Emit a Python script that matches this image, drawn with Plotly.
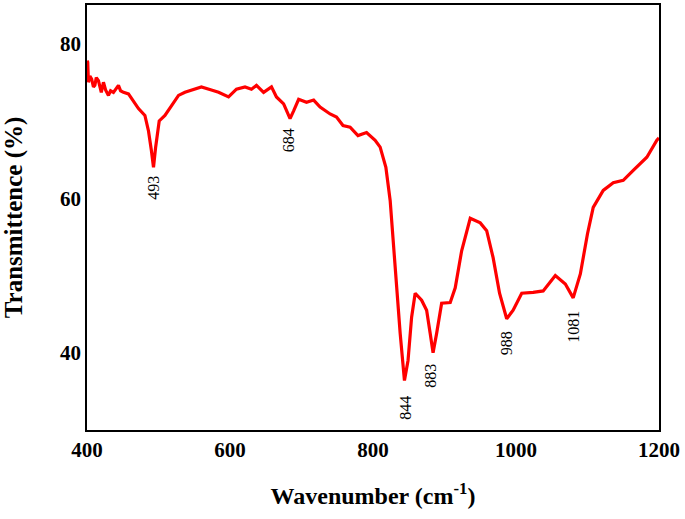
import plotly.graph_objects as go

wavenumber = [400, 401, 402, 404, 406.5, 409, 411, 413, 416, 418, 420, 423, 426, 430, 433, 437, 441, 444, 447,
              451, 458, 465, 472, 481, 486, 490, 493,
              496, 501, 509, 518, 528, 537, 551, 560, 574, 584, 598, 609, 621, 630, 637, 647, 658, 665, 675,
              684, 689, 696, 707, 717, 726, 740, 749, 758, 768, 779, 791, 803, 810, 814, 818, 824, 828, 833,
              838, 844, 849, 854, 859, 868, 875, 880, 884, 889, 896, 908, 915, 924, 936, 950, 959, 968, 977,
              987, 996, 1008, 1024, 1038, 1055, 1069, 1080, 1090, 1100, 1108, 1122, 1136, 1150, 1164, 1183,
              1197, 1200]
transmittance = [77.8, 77.6, 75.0, 75.8, 75.4, 74.4, 74.6, 75.6, 75.2, 74.2, 73.7, 75.0, 74.0, 73.3, 73.9, 73.7,
                 74.3, 74.6, 73.9,
                 73.7, 73.5, 72.6, 71.6, 70.7,
                 68.7, 66.2, 64.0, 66.6, 70.0, 70.7, 72.0, 73.3, 73.7, 74.1, 74.4, 74.0, 73.7, 73.1, 74.1, 74.4,
                 74.1, 74.6, 73.7, 74.4, 73.1, 72.2, 70.3, 71.3, 72.8, 72.4, 72.7, 71.8, 70.9, 70.5, 69.4, 69.2,
                 68.1, 68.5, 67.5, 66.6, 65.3, 64.0, 59.7, 54.5, 48.4, 42.5, 36.4, 39.0, 44.6, 47.7, 46.8, 45.5,
                 42.5, 40.0, 42.5, 46.4, 46.5, 48.4, 53.2, 57.4, 56.8, 55.8, 52.3, 47.7, 44.4, 45.5, 47.7, 47.8,
                 48.0, 50.0, 48.9, 47.1, 50.2, 55.4, 58.8, 61.0, 62.0, 62.3, 63.6, 65.3, 67.5, 67.8]

peak_labels = ["493", "684", "844", "883", "988", "1081"]
peak_label_x = [493, 681, 845, 881, 987, 1080]
peak_label_y = [61.3, 67.5, 32.9, 37.0, 41.2, 43.4]

x_ticks = [400, 600, 800, 1000, 1200]
y_ticks = [40, 60, 80]

serif = "Liberation Serif, Times New Roman, serif"

fig = go.Figure()
fig.add_trace(go.Scatter(x=wavenumber, y=transmittance, mode="lines",
                         line=dict(color="#ff0000", width=3.2), showlegend=False))

for t, xv, yv in zip(peak_labels, peak_label_x, peak_label_y):
    fig.add_annotation(x=xv, y=yv, text=t, showarrow=False, textangle=-90,
                       font=dict(family=serif, size=16, color="black"))

axis_common = dict(showgrid=False, zeroline=False, showline=True, linecolor="black",
                   linewidth=1.5, mirror=True, ticks="",
                   tickfont=dict(family=serif, size=21, color="black", weight="bold"))

fig.update_xaxes(range=[400, 1200], tickvals=x_ticks, **axis_common,
                 title=dict(text="Wavenumber (cm<sup>-1</sup>)", standoff=26,
                            font=dict(family=serif, size=24, color="black", weight="bold")))
fig.update_yaxes(range=[30, 85], tickvals=y_ticks, **axis_common,
                 title=dict(text="Transmittence (%)", standoff=30,
                            font=dict(family=serif, size=25, color="black", weight="bold")))

fig.update_layout(width=685, height=519, margin=dict(l=87, r=26, t=5, b=89, autoexpand=False),
                  plot_bgcolor="white", paper_bgcolor="white")

fig.write_html("out.html", config={"displayModeBar": False},
               post_script="document.body.style.margin='0';")
